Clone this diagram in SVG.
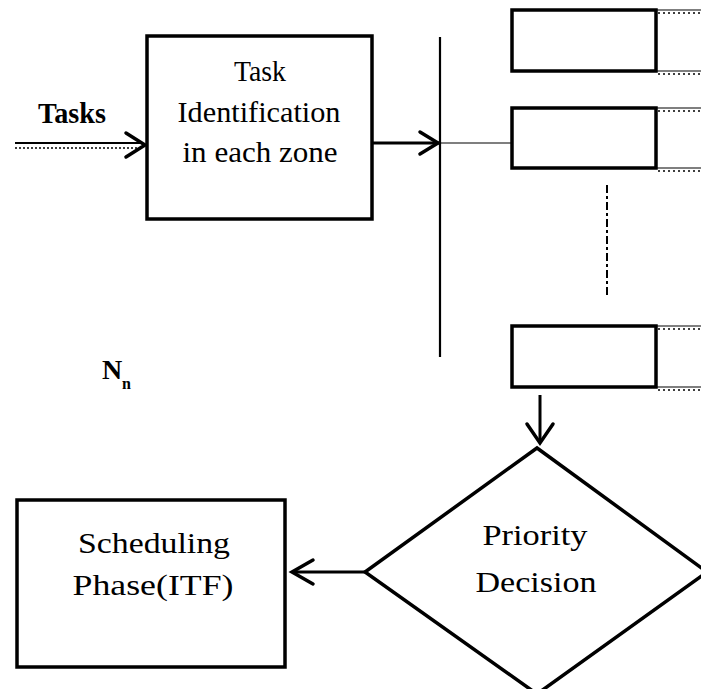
<svg xmlns="http://www.w3.org/2000/svg" width="701" height="689" viewBox="0 0 701 689">
<style>
.box{fill:#fff;stroke:#000;stroke-width:3.5}
.ln{fill:none;stroke:#000;stroke-width:3}
.thin{fill:none;stroke:#000;stroke-width:1.2}
.ah{fill:none;stroke:#000;stroke-width:3.5;stroke-linecap:round;stroke-linejoin:miter}
.lbl{font-family:"Liberation Serif","Times New Roman",serif;font-size:30px;fill:#000;text-anchor:middle}
.bold{font-family:"Liberation Serif","Times New Roman",serif;font-weight:bold;fill:#000}
.scal{fill:none;stroke:#000;stroke-width:1.5;stroke-dasharray:2 3}
</style>
<rect width="701" height="689" fill="#fff"/>
<g id="connectors">
  <line x1="15" y1="143" x2="143" y2="143" class="thin" style="stroke-width:2"/>
  <line x1="15" y1="148" x2="140" y2="148" style="stroke:#000;stroke-width:1.5;stroke-dasharray:2 2"/>
  <polyline points="126,133 145,145 126,157" class="ah"/>
  <line x1="373" y1="143" x2="439" y2="143" class="ln"/>
  <polyline points="420,132 438,143 420,154" class="ah"/>
  <line x1="440" y1="143" x2="512" y2="143" class="thin"/>
  <line x1="540" y1="395" x2="540" y2="443" class="ln"/>
  <polyline points="527,424 540,443 553,424" class="ah"/>
  <line x1="365" y1="572" x2="292" y2="572" class="ln"/>
  <polyline points="313,560 292,572 313,584" class="ah"/>
</g>
<g id="bus">
  <line x1="440" y1="37" x2="440" y2="357" style="stroke:#000;stroke-width:2.2"/>
</g>
<g id="dots">
  <line x1="607" y1="185" x2="607" y2="298" style="stroke:#000;stroke-width:2;stroke-dasharray:8 3 3 3"/>
</g>
<g id="task-identification">
  <rect x="147" y="36" width="225" height="183" class="box"/>
  <text x="260" y="81" class="lbl" textLength="52" lengthAdjust="spacingAndGlyphs">Task</text>
  <text x="259" y="122" class="lbl" textLength="163" lengthAdjust="spacingAndGlyphs">Identification</text>
  <text x="260" y="162" class="lbl" textLength="155" lengthAdjust="spacingAndGlyphs">in each zone</text>
</g>
<g id="tasks-label">
  <text x="38" y="123" class="bold" font-size="29" textLength="68" lengthAdjust="spacingAndGlyphs">Tasks</text>
</g>
<g id="nn-label">
  <text x="102" y="379" class="bold" font-size="28">N</text>
  <text x="122" y="389" class="bold" font-size="16">n</text>
</g>
<g id="queue-1">
  <rect x="512" y="10" width="144" height="61" class="box"/>
  <line x1="656" y1="10" x2="701" y2="10" class="thin"/>
  <line x1="658" y1="13" x2="701" y2="13" class="scal"/>
  <line x1="656" y1="71" x2="701" y2="71" class="thin"/>
  <line x1="658" y1="74" x2="701" y2="74" class="scal"/>
</g>
<g id="queue-2">
  <rect x="512" y="108" width="144" height="60" class="box"/>
  <line x1="656" y1="108" x2="701" y2="108" class="thin"/>
  <line x1="658" y1="111" x2="701" y2="111" class="scal"/>
  <line x1="656" y1="168" x2="701" y2="168" class="thin"/>
  <line x1="658" y1="171" x2="701" y2="171" class="scal"/>
</g>
<g id="queue-3">
  <rect x="512" y="326" width="144" height="61" class="box"/>
  <line x1="656" y1="326" x2="701" y2="326" class="thin"/>
  <line x1="658" y1="329" x2="701" y2="329" class="scal"/>
  <line x1="656" y1="387" x2="701" y2="387" class="thin"/>
  <line x1="658" y1="390" x2="701" y2="390" class="scal"/>
</g>
<g id="priority-decision">
  <polygon points="537,448 707,572 537,694 365,572" class="box"/>
  <text x="535" y="545" class="lbl" textLength="105" lengthAdjust="spacingAndGlyphs">Priority</text>
  <text x="536" y="592" class="lbl" textLength="121" lengthAdjust="spacingAndGlyphs">Decision</text>
</g>
<g id="scheduling-phase">
  <rect x="17" y="500" width="268" height="167" class="box"/>
  <text x="154" y="553" class="lbl" textLength="152" lengthAdjust="spacingAndGlyphs">Scheduling</text>
  <text x="153" y="595" class="lbl" textLength="161" lengthAdjust="spacingAndGlyphs">Phase(ITF)</text>
</g>
</svg>
